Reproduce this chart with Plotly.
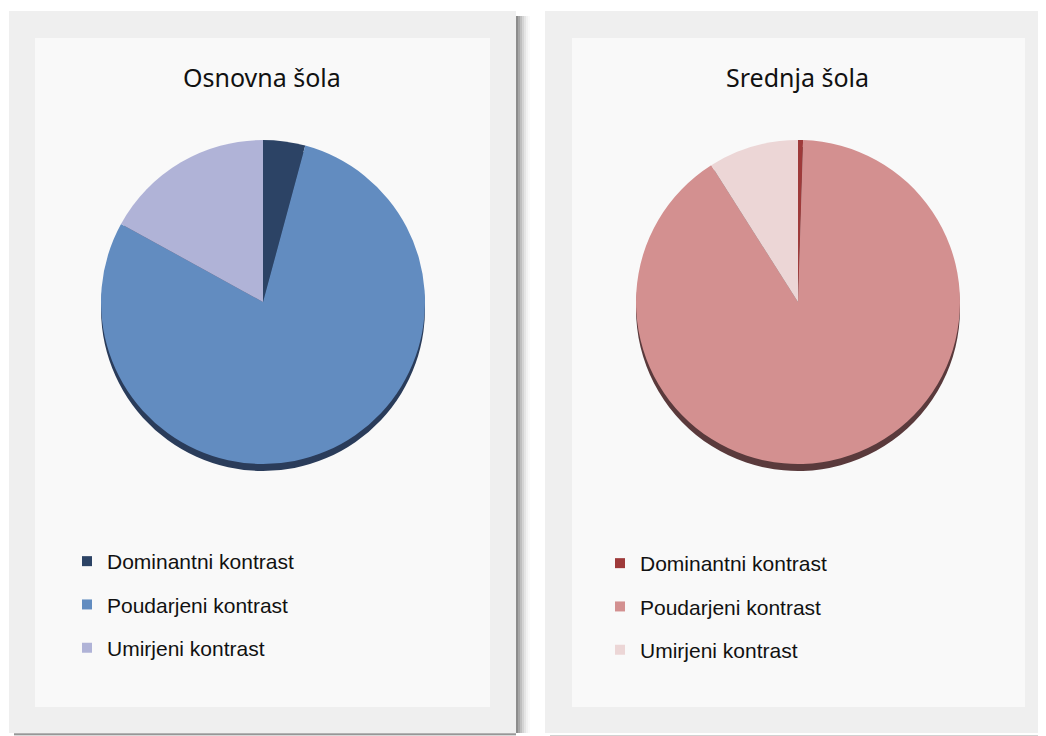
import plotly.graph_objects as go

# ---- data ----
categories = ["Dominantni kontrast", "Poudarjeni kontrast", "Umirjeni kontrast"]
osnovna_values = [4.2, 78.8, 17.0]
srednja_values = [0.5, 90.5, 9.0]
titles = ["Osnovna šola", "Srednja šola"]

# ---- styles ----
OFF = 8  # page body margin of the browser
W, H = 1046 - OFF, 736 - OFF
osnovna_colors = ["#2c4365", "#628cc0", "#b0b3d7"]
osnovna_edge = ["#1f2f48", "#2a3c5a", "#4a4d6a"]
srednja_colors = ["#9e3a3a", "#d39090", "#ecd6d6"]
srednja_edge = ["#4a2224", "#5a3a3c", "#6a5656"]


def px(x):
    return (x - OFF) / W


def py(y):
    return 1 - (y - OFF) / H


fig = go.Figure()

panels = [
    dict(cx=263, cy=302, r=162, vals=osnovna_values, cols=osnovna_colors,
         edge=osnovna_edge, legend="legend", title=titles[0], tx=262),
    dict(cx=798, cy=302, r=162, vals=srednja_values, cols=srednja_colors,
         edge=srednja_edge, legend="legend2", title=titles[1], tx=797),
]

EDGE = 7
for p in panels:
    # darker 3D rim (same data, offset slightly downward)
    fig.add_trace(go.Pie(
        labels=categories, values=p["vals"], sort=False, direction="clockwise",
        rotation=0, textinfo="none", hoverinfo="skip", showlegend=False,
        marker=dict(colors=p["edge"], line=dict(width=0)),
        domain=dict(x=[px(p["cx"] - p["r"]), px(p["cx"] + p["r"])],
                    y=[py(p["cy"] + p["r"] + EDGE), py(p["cy"] - p["r"] + EDGE)]),
    ))
    fig.add_trace(go.Pie(
        labels=categories, values=p["vals"], sort=False, direction="clockwise",
        rotation=0, textinfo="none", showlegend=False,
        marker=dict(colors=p["cols"], line=dict(width=0)),
        domain=dict(x=[px(p["cx"] - p["r"]), px(p["cx"] + p["r"])],
                    y=[py(p["cy"] + p["r"]), py(p["cy"] - p["r"])]),
    ))
    # legend entries
    for i, (cat, col) in enumerate(zip(categories, p["cols"])):
        fig.add_trace(go.Scatter(
            x=[None], y=[None], mode="markers", name=cat,
            marker=dict(symbol="square", size=10, color=col),
            legend=p["legend"], legendgroup=p["legend"] + str(i),
            showlegend=True, hoverinfo="skip",
        ))

shapes = []
# shadows
for k, op in enumerate([0.45, 0.35, 0.25, 0.17, 0.1, 0.05, 0.02]):
    shapes.append(dict(type="rect", xref="paper", yref="paper",
                       x0=px(516 + 2 * k), x1=px(518 + 2 * k), y0=py(733), y1=py(16),
                       fillcolor=f"rgba(0,0,0,{op})", line=dict(width=0), layer="below"))
for k, op in enumerate([0.3, 0.15]):
    shapes.append(dict(type="rect", xref="paper", yref="paper",
                       x0=px(14), x1=px(516), y0=py(735 + k), y1=py(733 + k),
                       fillcolor=f"rgba(0,0,0,{op})", line=dict(width=0), layer="below"))
    shapes.append(dict(type="rect", xref="paper", yref="paper",
                       x0=px(550), x1=px(1046), y0=py(736 + k), y1=py(735 + k),
                       fillcolor=f"rgba(0,0,0,{op*0.6})", line=dict(width=0), layer="below"))
# frames
for (ox0, ox1, ix0, ix1) in [(9, 516, 35, 490), (545, 1045, 572, 1025)]:
    shapes.append(dict(type="rect", xref="paper", yref="paper",
                       x0=px(ox0), x1=px(ox1), y0=py(733), y1=py(11),
                       fillcolor="#efefef", line=dict(width=0), layer="below"))
    shapes.append(dict(type="rect", xref="paper", yref="paper",
                       x0=px(ix0), x1=px(ix1), y0=py(707), y1=py(38),
                       fillcolor="#f9f9f9", line=dict(width=0), layer="below"))

annotations = [
    dict(text=p["title"], x=px(p["tx"]), y=py(77), xref="paper", yref="paper",
         xanchor="center", yanchor="middle", showarrow=False,
         font=dict(family="Noto Sans", size=25, color="#111111"))
    for p in panels
]

legend_style = dict(
    font=dict(family="Liberation Sans, Arial, sans-serif", size=21, color="#111111"),
    bgcolor="rgba(0,0,0,0)", borderwidth=0, tracegroupgap=13,
    xanchor="left", yanchor="top", traceorder="grouped",
)

fig.update_layout(
    width=W, height=H,
    margin=dict(l=0, r=0, t=0, b=0),
    paper_bgcolor="white", plot_bgcolor="rgba(0,0,0,0)",
    xaxis=dict(visible=False), yaxis=dict(visible=False),
    shapes=shapes, annotations=annotations,
    legend=dict(x=px(67), y=py(541), **legend_style),
    legend2=dict(x=px(600), y=py(543), **legend_style),
    showlegend=True,
)

fig.write_html("out.html")
